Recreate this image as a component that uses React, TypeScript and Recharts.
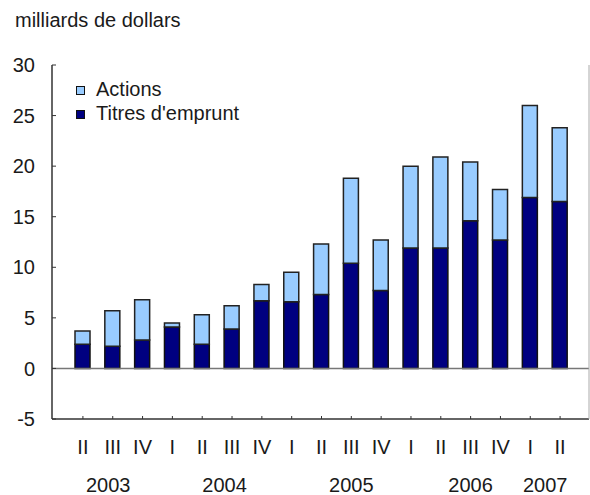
import { BarChart, Bar, XAxis, YAxis, ReferenceLine } from 'recharts'

const quarters = ['II', 'III', 'IV', 'I', 'II', 'III', 'IV', 'I', 'II', 'III', 'IV', 'I', 'II', 'III', 'IV', 'I', 'II']
const years = ['2003', '2003', '2003', '2004', '2004', '2004', '2004', '2005', '2005', '2005', '2005', '2006', '2006', '2006', '2006', '2007', '2007']
// titres d'emprunt (bas de la pile) et actions (haut), milliards de dollars
const titres = [2.4, 2.2, 2.8, 4.1, 2.4, 3.9, 6.7, 6.6, 7.3, 10.4, 7.7, 11.9, 11.9, 14.6, 12.7, 16.9, 16.5]
const actions = [1.3, 3.5, 4.0, 0.4, 2.9, 2.3, 1.6, 2.9, 5.0, 8.4, 5.0, 8.1, 9.0, 5.8, 5.0, 9.1, 7.3]
const yTicks = [-5, 0, 5, 10, 15, 20, 25, 30]

const FONT = '"Liberation Sans", Arial, sans-serif'
const TEXT = '#1a1a1a'
const LIGHT = '#99ccff'
const DARK = '#000080'

// the year labels in the source don't sit exactly on the group centre
const yearNudge: Record<string, number> = { '2003': -0.15, '2004': 0.25, '2005': 0.5, '2006': 0.5 }

const data = quarters.map((q, i) => ({
  key: `${years[i]} ${q}`,
  quarter: q,
  year: years[i],
  titres: titres[i],
  actions: actions[i],
}))

function YearTick(props: any) {
  const { x, y, payload } = props
  const i = payload?.index ?? props.index
  if (i > 0 && years[i] === years[i - 1]) return null
  const count = years.filter((v) => v === years[i]).length
  const band = (payload?.offset ?? 0) * 2
  const cx = x + ((count - 1) / 2 + (yearNudge[years[i]] ?? 0)) * band
  return (
    <text x={cx} y={y + 33} textAnchor='middle' fontSize={20} fill={TEXT} fontFamily={FONT}>
      {years[i]}
    </text>
  )
}

const legendItems = [
  { label: 'Actions', color: LIGHT },
  { label: "Titres d'emprunt", color: DARK },
]

export default function App() {
  return (
    <div style={{ position: 'absolute', left: 0, top: 0, width: 590, height: 495, background: '#fff', fontFamily: FONT }}>
      <div style={{ position: 'absolute', left: 15, top: 8, fontSize: 20, lineHeight: '24px', color: TEXT }}>
        milliards de dollars
      </div>
      <BarChart
        width={590}
        height={495}
        data={data}
        margin={{ top: 65, right: 0, bottom: 0, left: 0 }}
        barSize={15}
      >
        <XAxis
          dataKey='key'
          interval={0}
          padding={{ left: 16, right: 14 }}
          height={40}
          tickFormatter={(v: string, i: number) => quarters[i] ?? v}
          tick={{ fontSize: 20, fill: TEXT, fontFamily: FONT }}
          tickSize={-3}
          tickMargin={24}
          tickLine={{ stroke: '#333' }}
          axisLine={{ stroke: '#333', strokeWidth: 1.5 }}
        />
        <XAxis
          xAxisId='year'
          dataKey='key'
          interval={0}
          padding={{ left: 16, right: 14 }}
          height={36}
          tickSize={0}
          tickMargin={0}
          axisLine={false}
          tickLine={false}
          tick={YearTick}
        />
        <XAxis
          xAxisId='top'
          orientation='top'
          dataKey='key'
          height={0}
          tick={false}
          tickLine={false}
          axisLine={{ stroke: '#555', strokeWidth: 1.5 }}
        />
        <YAxis
          domain={[-5, 30]}
          ticks={yTicks}
          width={52}
          interval={0}
          tick={{ fontSize: 20, fill: TEXT, fontFamily: FONT }}
          tickSize={-4}
          tickMargin={21}
          tickLine={{ stroke: '#333' }}
          axisLine={{ stroke: '#333', strokeWidth: 1.5 }}
        />
        <YAxis
          yAxisId='r'
          orientation='right'
          width={1}
          tick={false}
          tickLine={false}
          axisLine={{ stroke: '#aaa' }}
        />
        <ReferenceLine y={0} stroke='#777' strokeWidth={1.5} />
        <Bar dataKey='titres' stackId='a' fill={DARK} stroke='#111' strokeWidth={1.5} isAnimationActive={false} />
        <Bar dataKey='actions' stackId='a' fill={LIGHT} stroke='#222' strokeWidth={1.5} isAnimationActive={false} />
      </BarChart>
      <div style={{ position: 'absolute', left: 76, top: 77, fontSize: 20, lineHeight: '24px', color: TEXT }}>
        {legendItems.map((it) => (
          <div key={it.label} style={{ display: 'flex', alignItems: 'center' }}>
            <span
              style={{
                display: 'inline-block',
                width: 7,
                height: 7,
                background: it.color,
                border: '1px solid #111',
                marginRight: 11,
                marginTop: 2,
              }}
            />
            {it.label}
          </div>
        ))}
      </div>
    </div>
  )
}
